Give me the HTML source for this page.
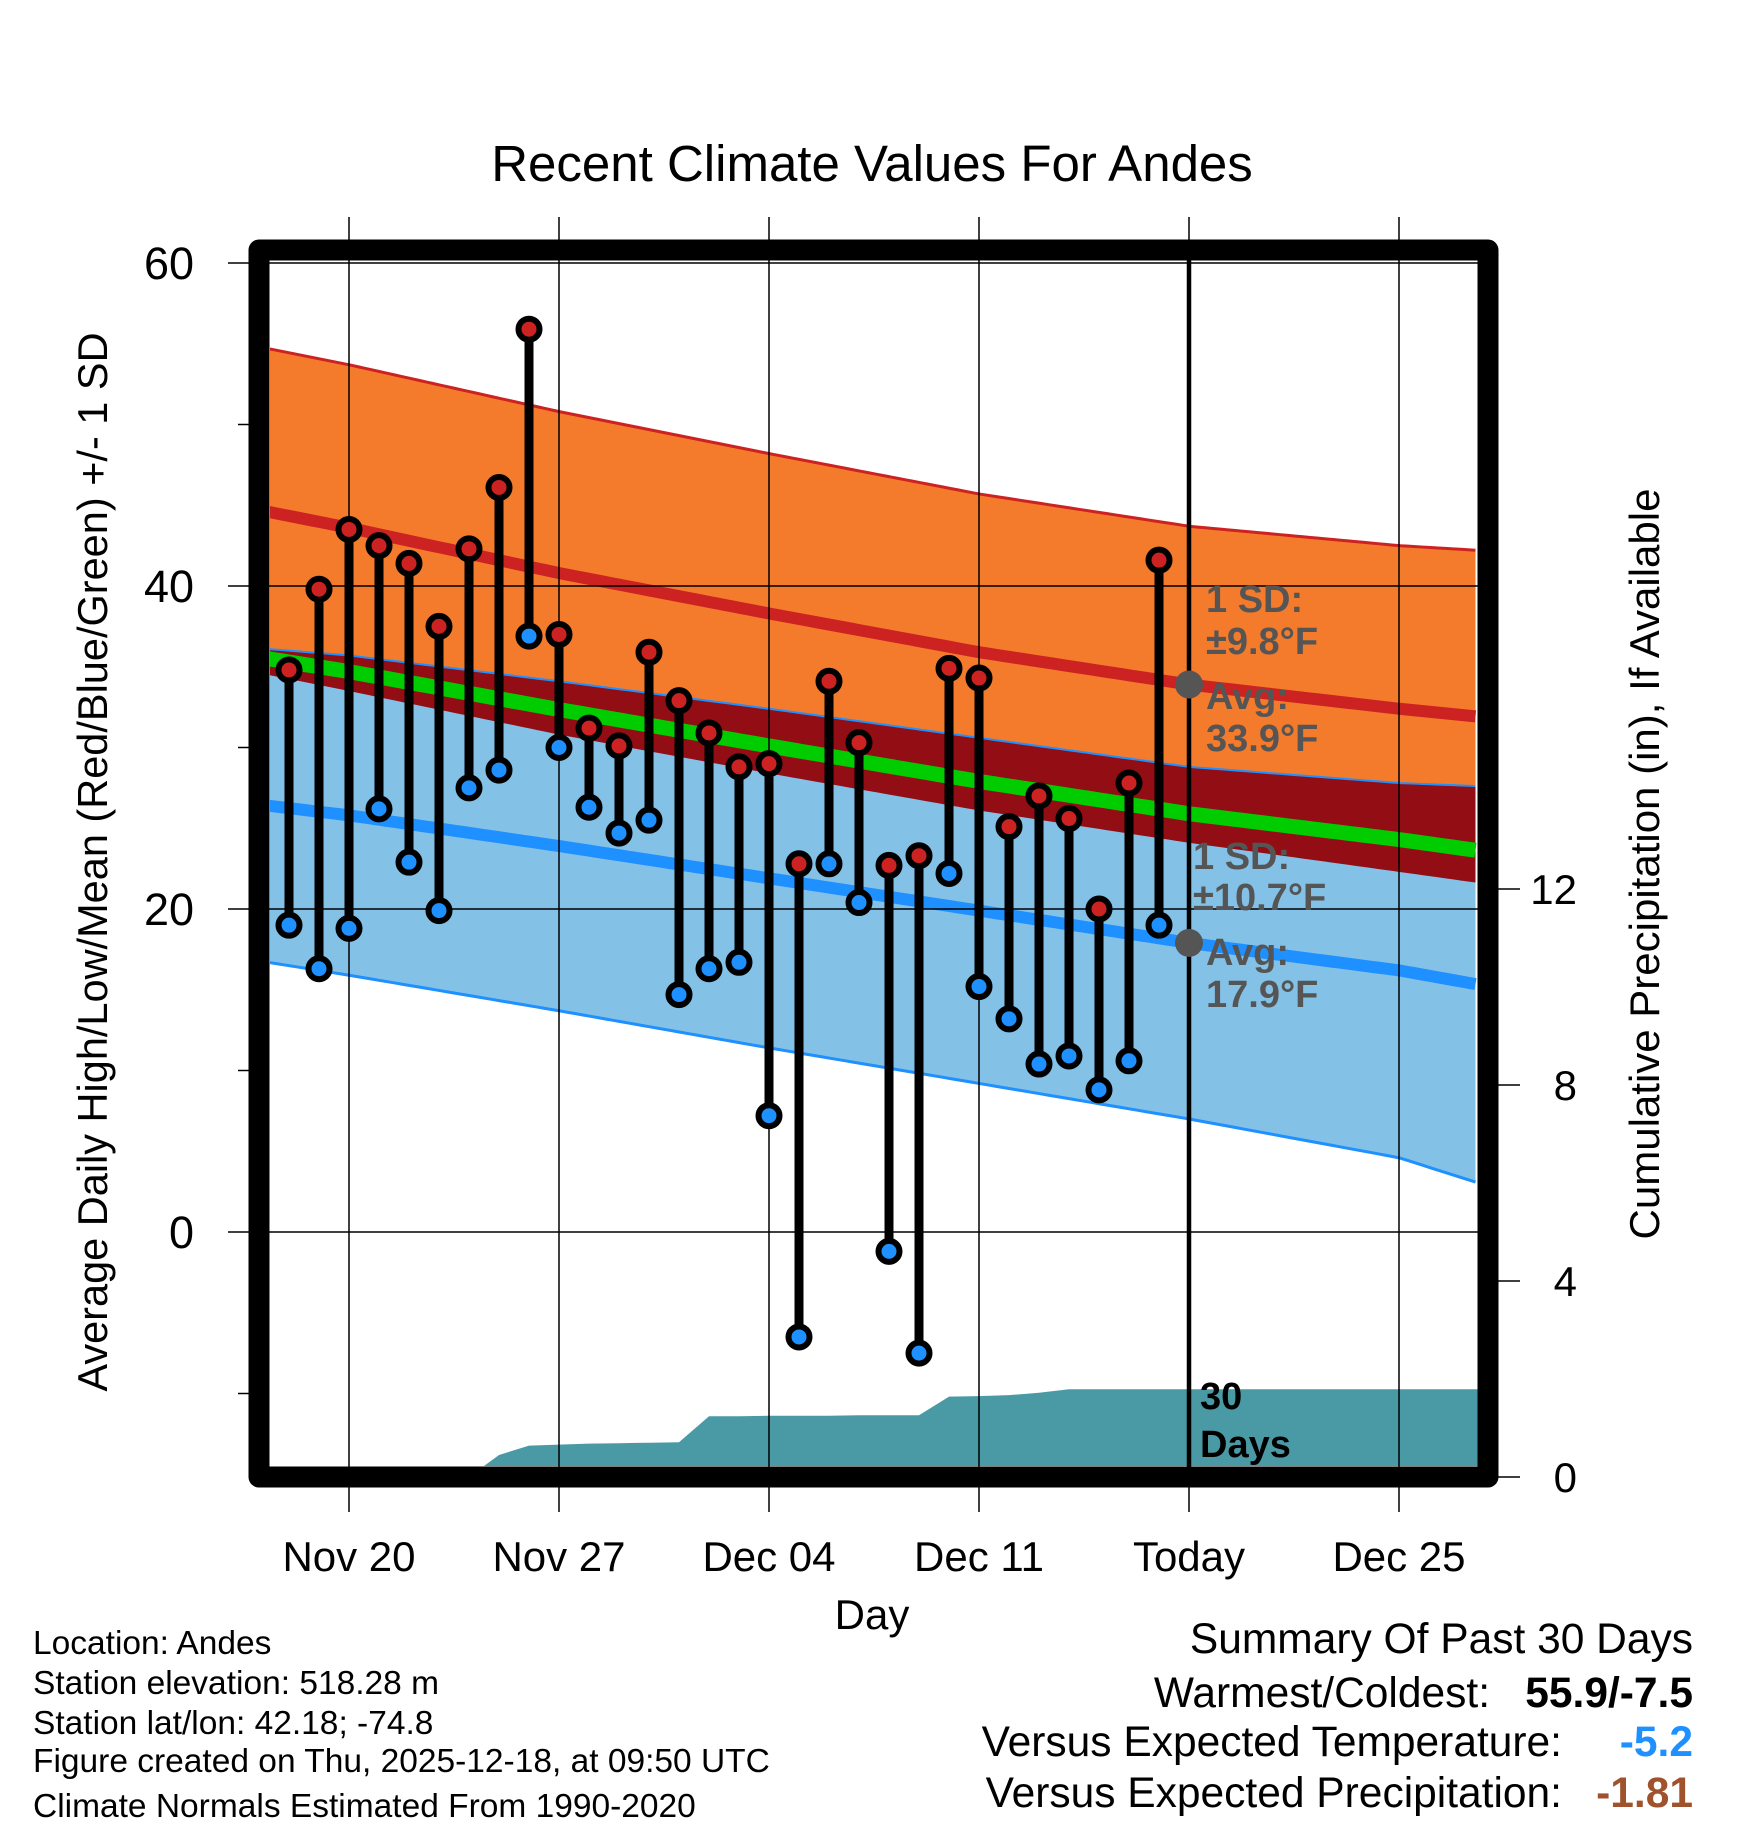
<!DOCTYPE html>
<html><head><meta charset="utf-8"><title>Recent Climate Values For Andes</title>
<style>
html,body{margin:0;padding:0;background:#fff;}
svg{display:block;font-family:"Liberation Sans",Arial,sans-serif;}
</style></head>
<body>
<svg id="chart" width="1748" height="1828" viewBox="0 0 1748 1828" xmlns="http://www.w3.org/2000/svg">
<defs><clipPath id="plotclip"><rect x="270" y="260" width="1208" height="1206"/></clipPath></defs>
<text x="872" y="181" font-size="51" text-anchor="middle">Recent Climate Values For Andes</text>
<g id="plot" clip-path="url(#plotclip)"></g>
<g id="axes"></g>
<text transform="translate(107,862) rotate(-90)" font-size="41.5" text-anchor="middle">Average Daily High/Low/Mean (Red/Blue/Green) +/- 1 SD</text>
<text transform="translate(1659,864) rotate(-90)" font-size="42" text-anchor="middle">Cumulative Precipitation (in), If Available</text>
<text x="872" y="1629" font-size="42" text-anchor="middle">Day</text>
<g font-size="33.5">
<text x="33" y="1654">Location: Andes</text>
<text x="33" y="1694">Station elevation: 518.28 m</text>
<text x="33" y="1734">Station lat/lon: 42.18; -74.8</text>
<text x="33" y="1772">Figure created on Thu, 2025-12-18, at 09:50 UTC</text>
<text x="33" y="1817">Climate Normals Estimated From 1990-2020</text>
</g>
<g font-size="42.5">
<text x="1693" y="1653" text-anchor="end">Summary Of Past 30 Days</text>
<text x="1490" y="1707" text-anchor="end">Warmest/Coldest:</text>
<text x="1693" y="1707" text-anchor="end" font-weight="bold">55.9/-7.5</text>
<text x="1562" y="1756" text-anchor="end">Versus Expected Temperature:</text>
<text x="1693" y="1756" text-anchor="end" font-weight="bold" fill="#1e90ff">-5.2</text>
<text x="1562" y="1807" text-anchor="end">Versus Expected Precipitation:</text>
<text x="1693" y="1807" text-anchor="end" font-weight="bold" fill="#a0522d">-1.81</text>
</g>
</svg>
<script>
// ---- data (day offsets relative to Nov 20) ----
const obsDays = [-2,-1,0,1,2,3,4,5,6,7,8,9,10,11,12,13,14,15,16,17,18,19,20,21,22,23,24,25,26,27];
const highs = [34.8,39.8,43.5,42.5,41.4,37.5,42.3,46.1,55.9,37.0,31.2,30.1,35.9,32.9,30.9,28.8,29.0,22.8,34.1,30.3,22.7,23.3,34.9,34.3,25.1,27.0,25.6,20.0,27.8,41.6];
const lows = [19.0,16.3,18.8,26.2,22.9,19.9,27.5,28.6,36.9,30.0,26.3,24.7,25.5,14.7,16.3,16.7,7.2,-6.5,22.8,20.4,-1.2,-7.5,22.2,15.2,13.2,10.4,10.9,8.8,10.6,19.0];
const precipCum = [0,0,0,0,0,0,0,0.45,0.64,0.66,0.68,0.69,0.70,0.71,1.24,1.24,1.25,1.25,1.25,1.26,1.26,1.26,1.64,1.65,1.67,1.72,1.79,1.79,1.79,1.79];
const normDays = [-2.7,0,7,14,21,28,35,37.7];
const normHigh = [44.6,43.6,40.8,38.3,35.9,33.9,32.4,31.9];
const normHighSD = [10.1,10.1,10.0,9.9,9.8,9.8,10.1,10.3];
const normLow = [26.4,25.8,23.9,21.9,19.9,17.9,16.2,15.3];
const normLowSD = [9.7,9.9,10.2,10.5,10.7,10.9,11.6,12.3];
const xTickDays = [0,7,14,21,28,35];
const xTickLabels = ["Nov 20","Nov 27","Dec 04","Dec 11","Today","Dec 25"];
const yTicks = [60,40,20,0];
const yMinor = [50,30,10,-10];
const pTicks = [0,4,8,12];
const todayDay = 28;

// ---- scales ----
function X(d){return 349 + d*30;}
function Y(t){return 263 + (60-t)*16.15;}
function YP(p){return 1477 - p*49;}
const NS="http://www.w3.org/2000/svg";
function mk(parent,tag,attrs){const e=document.createElementNS(NS,tag);for(const k in attrs)e.setAttribute(k,attrs[k]);parent.appendChild(e);return e;}
function interp(arr,d){
  if(d<=normDays[0])return arr[0];
  for(let i=1;i<normDays.length;i++){if(d<=normDays[i]){const f=(d-normDays[i-1])/(normDays[i]-normDays[i-1]);return arr[i-1]+f*(arr[i]-arr[i-1]);}}
  return arr[arr.length-1];
}
const plot=document.getElementById('plot');
const axes=document.getElementById('axes');
const d0=-2.7,d1=37.7,samp=[];
for(let d=d0;d<=d1+0.001;d+=0.25)samp.push(d);
function band(fu,fl){let s=samp.map(d=>X(d)+','+Y(fu(d))).join(' ');s+=' '+samp.slice().reverse().map(d=>X(d)+','+Y(fl(d))).join(' ');return s;}
function line(f){return samp.map(d=>X(d)+','+Y(f(d))).join(' ');}
const hi=d=>interp(normHigh,d), hs=d=>interp(normHighSD,d), lo=d=>interp(normLow,d), ls=d=>interp(normLowSD,d);

let e;
e=mk(plot,'polygon',{points:band(d=>hi(d)+hs(d),d=>hi(d)-hs(d)),fill:'#f47a2c'});


e=mk(plot,'polygon',{points:band(d=>lo(d)+ls(d),d=>lo(d)-ls(d)),fill:'#84c1e7'});


e=mk(plot,'polygon',{points:band(d=>lo(d)+ls(d),d=>Math.min(hi(d)-hs(d),lo(d)+ls(d))),fill:'#920d14'});


e=mk(plot,'polyline',{points:line(d=>lo(d)+ls(d)),fill:'none',stroke:'#1e90ff','stroke-width':2});


e=mk(plot,'polyline',{points:line(d=>lo(d)-ls(d)),fill:'none',stroke:'#1e90ff','stroke-width':3});


e=mk(plot,'polyline',{points:line(d=>hi(d)+hs(d)),fill:'none',stroke:'#cc2222','stroke-width':3});


e=mk(plot,'polyline',{points:line(d=>(hi(d)+lo(d))/2),fill:'none',stroke:'#00cc00','stroke-width':15});


e=mk(plot,'polyline',{points:line(hi),fill:'none',stroke:'#cc2222','stroke-width':12});


e=mk(plot,'polyline',{points:line(lo),fill:'none',stroke:'#1e90ff','stroke-width':12});



// precip area
let pp=[X(d0)+','+YP(0)];
precipCum.forEach((v,i)=>pp.push(X(obsDays[i])+','+YP(v)));
pp.push(X(d1)+','+YP(precipCum[precipCum.length-1]));
pp.push(X(d1)+','+YP(0));
e=mk(plot,'polygon',{points:pp.join(' '),fill:'#4a9aa5'});



// gridlines
xTickDays.forEach((d,i)=>{
  const g=mk(axes,'line',{x1:X(d),x2:X(d),y1:217,y2:1512,stroke:'#000','stroke-width':1.5});
  
  
  const t=mk(axes,'text',{x:X(d),y:1571,'font-size':42,'text-anchor':'middle'});
  t.textContent=xTickLabels[i];
  
  
});
yTicks.forEach(v=>{
  const g=mk(axes,'line',{x1:228,x2:1478,y1:Y(v),y2:Y(v),stroke:'#000','stroke-width':1.5});
  
  
  const t=mk(axes,'text',{x:194,y:Y(v)+16,'font-size':45,'text-anchor':'end'});
  t.textContent=String(v);
  
  
});
yMinor.forEach(v=>{
  const g=mk(axes,'line',{x1:238,x2:252,y1:Y(v),y2:Y(v),stroke:'#000','stroke-width':1.5});
  
  
});
pTicks.forEach(v=>{
  const g=mk(axes,'line',{x1:1495,x2:1520,y1:YP(v),y2:YP(v),stroke:'#000','stroke-width':1.5});
  
  
  const t=mk(axes,'text',{x:1577,y:YP(v)+15,'font-size':42,'text-anchor':'end'});
  t.textContent=String(v);
  
  
});

// today line
e=mk(axes,'line',{x1:X(todayDay),x2:X(todayDay),y1:255,y2:1470,stroke:'#000','stroke-width':4.5});



// observations
obsDays.forEach((d,i)=>{
  const s=mk(axes,'line',{x1:X(d),x2:X(d),y1:Y(highs[i]),y2:Y(lows[i]),stroke:'#000','stroke-width':9});
  
  
});
obsDays.forEach((d,i)=>{
  const h=mk(axes,'circle',{cx:X(d),cy:Y(highs[i]),r:10.5,fill:'#cc2222',stroke:'#000','stroke-width':6});
  
  
  const l=mk(axes,'circle',{cx:X(d),cy:Y(lows[i]),r:10.5,fill:'#1e90ff',stroke:'#000','stroke-width':6});
  
  
});

// today markers
e=mk(axes,'circle',{cx:X(todayDay),cy:Y(hi(todayDay)),r:14,fill:'#555'});


e=mk(axes,'circle',{cx:X(todayDay),cy:Y(lo(todayDay)),r:14,fill:'#555'});



// annotations
const notes=[["1 SD:",1206,612],["\u00b19.8\u00b0F",1206,654],["Avg:",1206,709],["33.9\u00b0F",1206,751],["1 SD:",1193,869],["\u00b110.7\u00b0F",1193,910],["Avg:",1206,965],["17.9\u00b0F",1206,1007]];
notes.forEach(n=>{
  const t=mk(axes,'text',{x:n[1],y:n[2],'font-size':38,'font-weight':'bold',fill:'#555'});
  t.textContent=n[0];
  
  
});
e=mk(axes,'text',{x:1200,y:1409,'font-size':38,'font-weight':'bold'});
e.textContent='30';


e=mk(axes,'text',{x:1200,y:1457,'font-size':38,'font-weight':'bold'});
e.textContent='Days';



// frame
e=mk(axes,'rect',{x:259,y:250,width:1229,height:1227,fill:'none',stroke:'#000','stroke-width':21,'stroke-linejoin':'round'});


</script>
</body></html>
